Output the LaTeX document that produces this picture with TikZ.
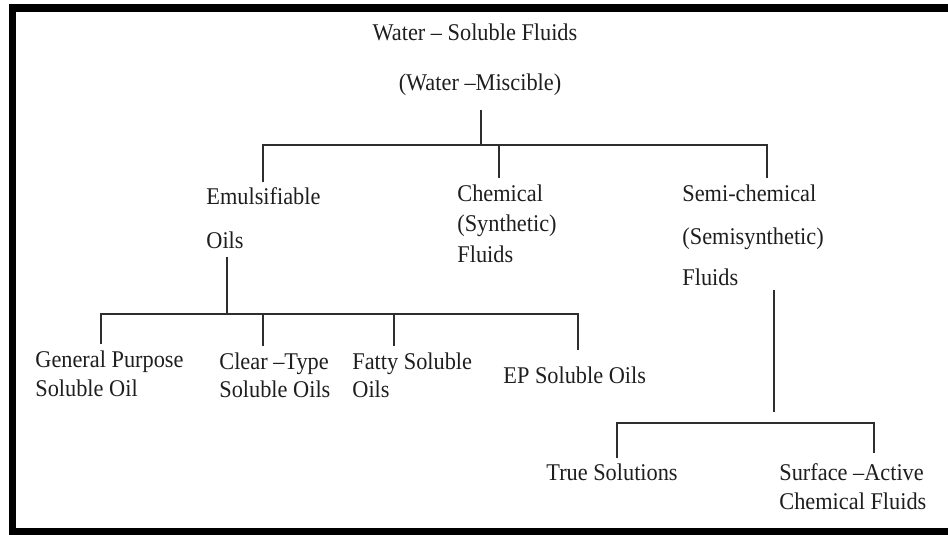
\documentclass[tikz,border=0pt]{standalone}
\usepackage{fontspec}
\setmainfont{Liberation Serif}[FakeStretch=0.93]
\definecolor{ink}{HTML}{1E1E1E}
\definecolor{wire}{HTML}{2E2E2E}
\begin{document}
\begin{tikzpicture}[x=0.5pt,y=-0.5pt,
  lbl/.style={anchor=base west, inner sep=0pt, font=\fontsize{12}{14}\selectfont, text=ink},
  link/.style={draw=wire, line width=1pt}]
\useasboundingbox (0,0) rectangle (948,535);
% frame
\fill[black] (9,4) rectangle (948,12);
\fill[black] (9,4) rectangle (16,535);
\fill[black] (9,528) rectangle (948,535);
% root
\node[lbl, anchor=base] (title) at (475,41) {Water – Soluble Fluids};
\node[lbl, anchor=base] (misc) at (480,91) {(Water –Miscible)};
% level 1
\node[lbl] (emu1) at (206,205) {Emulsifiable};
\node[lbl] (emu2) at (206,248) {Oils};
\node[lbl] (chem1) at (457,201) {Chemical};
\node[lbl] (chem2) at (457,231) {(Synthetic)};
\node[lbl] (chem3) at (457,262) {Fluids};
\node[lbl] (semi1) at (682,201) {Semi-chemical};
\node[lbl] (semi2) at (682,244) {(Semisynthetic)};
\node[lbl] (semi3) at (682,285) {Fluids};
% level 2 (oils)
\node[lbl] (gp1) at (35,367) {General Purpose};
\node[lbl] (gp2) at (35,396) {Soluble Oil};
\node[lbl] (ct1) at (219,369) {Clear –Type};
\node[lbl] (ct2) at (219,397) {Soluble Oils};
\node[lbl] (fs1) at (352,369) {Fatty Soluble};
\node[lbl] (fs2) at (352,397) {Oils};
\node[lbl] (ep) at (503,383) {EP Soluble Oils};
% level 2 (semi)
\node[lbl] (ts) at (546,480) {True Solutions};
\node[lbl] (sa1) at (779,480) {Surface –Active};
\node[lbl] (sa2) at (779,509) {Chemical Fluids};
% connector points
\coordinate (r0) at (481,110);
\coordinate (r1) at (481,145);
\coordinate (bl) at (263,145);
\coordinate (br) at (767,145);
\coordinate (d1) at (263,182);
\coordinate (d2) at (499,178);
\coordinate (d2t) at (499,145);
\coordinate (d3) at (767,178);
\coordinate (o0) at (227,257);
\coordinate (o1) at (227,314);
\coordinate (ol) at (101,314);
\coordinate (or) at (578,314);
\coordinate (e1) at (101,344);
\coordinate (e2t) at (263,314);
\coordinate (e2) at (263,346);
\coordinate (e3t) at (394,314);
\coordinate (e3) at (394,346);
\coordinate (e4) at (578,350);
\coordinate (f0) at (774,290);
\coordinate (f1) at (774,412);
\coordinate (tl) at (617,423);
\coordinate (tr) at (874,423);
\coordinate (g1) at (617,458);
\coordinate (g2) at (874,453);
% connectors
\draw[link] (r0) -- (r1);
\draw[link] (d1) -- (bl) -- (br) -- (d3);
\draw[link] (d2t) -- (d2);
\draw[link] (o0) -- (o1);
\draw[link] (e1) -- (ol) -- (or) -- (e4);
\draw[link] (e2t) -- (e2);
\draw[link] (e3t) -- (e3);
\draw[link] (f0) -- (f1);
\draw[link] (g1) -- (tl) -- (tr) -- (g2);
\end{tikzpicture}
\end{document}
